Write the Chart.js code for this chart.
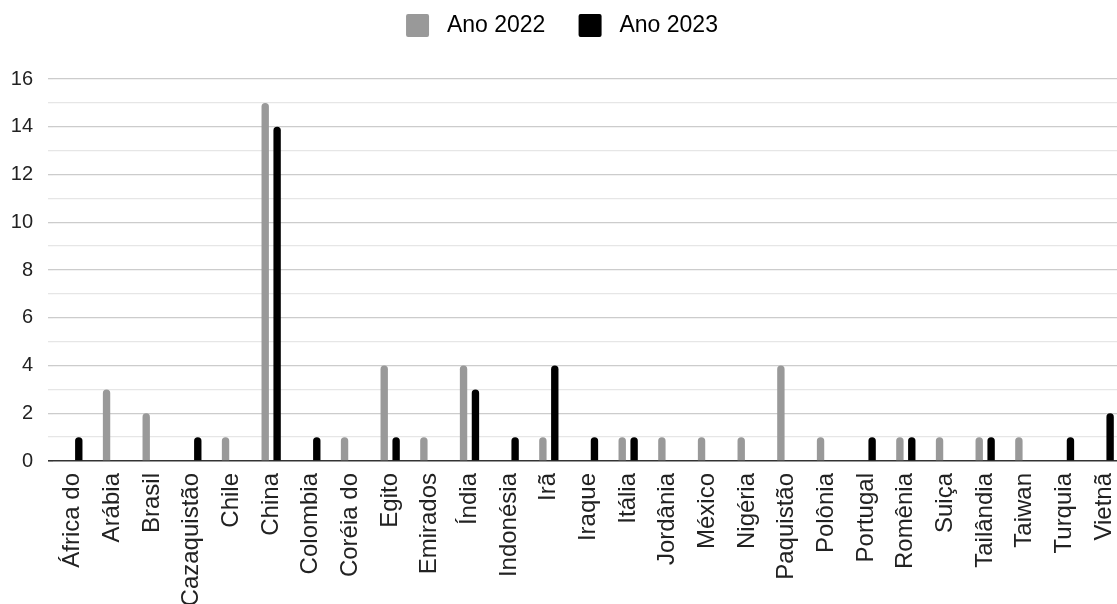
<!DOCTYPE html>
<html lang="pt">
<head>
  <meta charset="UTF-8">
  <title>Ano 2022 x Ano 2023</title>
  <script src="https://cdn.jsdelivr.net/npm/chart.js"></script>
  <style>
    html, body { margin: 0; padding: 0; background: #fff; overflow: hidden; }
    #wrap { width: 1124px; height: 604px; }
  </style>
</head>
<body>
  <div id="wrap">
    <canvas id="paises" width="1124" height="604"></canvas>
  </div>

  <script>
    // Valores
    const paises = ['África do', 'Arábia', 'Brasil', 'Cazaquistão', 'Chile', 'China', 'Colombia', 'Coréia do',
      'Egito', 'Emirados', 'Índia', 'Indonésia', 'Irã', 'Iraque', 'Itália', 'Jordânia', 'México', 'Nigéria',
      'Paquistão', 'Polônia', 'Portugal', 'Romênia', 'Suiça', 'Tailândia', 'Taiwan', 'Turquia', 'Vietnã'];
    const ano2022 = [0, 3, 2, 0, 1, 15, 0, 1, 4, 1, 4, 0, 1, 0, 1, 1, 1, 1, 4, 1, 0, 1, 1, 1, 1, 0, 0];
    const ano2023 = [1, 0, 0, 1, 0, 14, 1, 0, 1, 0, 3, 1, 4, 1, 1, 0, 0, 0, 0, 0, 1, 1, 0, 1, 0, 1, 2];
    const seriesNomes = ['Ano 2022', 'Ano 2023'];
    const yTicks = [0, 2, 4, 6, 8, 10, 12, 14, 16];

    const fonte = 'Arial, "Liberation Sans", sans-serif';

    // empurra a área do gráfico para baixo da legenda
    const espacoLegenda = {
      id: 'espacoLegenda',
      beforeLayout(chart) {
        const lg = chart.legend;
        if (lg && !lg._patched) {
          const fit = lg.fit;
          lg.fit = function () { fit.call(this); this.height = 79; };
          lg._patched = true;
        }
      }
    };

    const ctx = document.getElementById('paises').getContext('2d');
    new Chart(ctx, {
      type: 'bar',
      data: {
        labels: paises,
        datasets: [
          {
            label: seriesNomes[0],
            data: ano2022,
            backgroundColor: '#999999',
            borderRadius: 4,
            categoryPercentage: 0.6,
            barPercentage: 0.62
          },
          {
            label: seriesNomes[1],
            data: ano2023,
            backgroundColor: '#000000',
            borderRadius: 4,
            categoryPercentage: 0.6,
            barPercentage: 0.62
          }
        ]
      },
      options: {
        responsive: false,
        animation: false,
        devicePixelRatio: 1,
        layout: { padding: 0 },
        plugins: {
          tooltip: { enabled: false },
          legend: {
            position: 'top',
            align: 'center',
            labels: {
              boxWidth: 23,
              boxHeight: 23,
              padding: 14,
              color: '#222',
              font: { family: fonte, size: 23 },
              generateLabels(chart) {
                return chart.data.datasets.map((ds, i) => ({
                  text: i === 0 ? ' ' + ds.label + '   ' : ' ' + ds.label,
                  fillStyle: ds.backgroundColor,
                  strokeStyle: ds.backgroundColor,
                  lineWidth: 0,
                  borderRadius: 2,
                  hidden: false,
                  datasetIndex: i
                }));
              }
            }
          }
        },
        scales: {
          x: {
            grid: { display: false, drawTicks: false },
            border: { display: false },
            ticks: {
              autoSkip: false,
              minRotation: 90,
              maxRotation: 90,
              padding: 12,
              color: '#222',
              font: { family: fonte, size: 24 }
            },
            afterFit(scale) {
              scale.height = 143;
              scale.paddingLeft = 0;
              scale.paddingRight = 0;
            }
          },
          y: {
            min: 0,
            max: 16,
            border: { display: false },
            grid: {
              drawTicks: true,
              tickLength: 5,
              color: c => c.tick.value === 0 ? '#333333' : (c.tick.value % 2 === 0 ? '#cccccc' : '#e6e6e6'),
              lineWidth: c => c.tick.value === 0 ? 1.6 : 1.3
            },
            ticks: {
              stepSize: 1,
              maxTicksLimit: 20,
              autoSkip: false,
              padding: 15,
              color: '#222',
              font: { family: fonte, size: 20 },
              callback: v => yTicks.includes(v) ? v : ''
            },
            afterFit(scale) { scale.width = 53; }
          }
        }
      },
      plugins: [espacoLegenda]
    });
  </script>
</body>
</html>
